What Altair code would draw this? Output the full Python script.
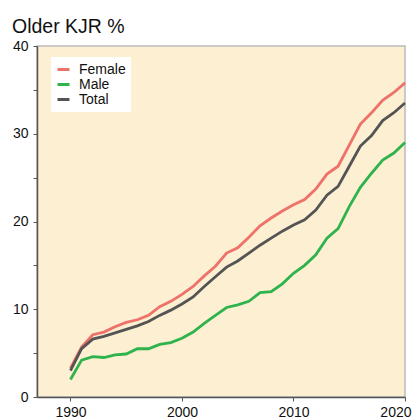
import altair as alt
import pandas as pd

years = list(range(1990, 2021))
female = [3.3, 5.7, 7.1, 7.4, 8.0, 8.5, 8.8, 9.3, 10.3, 10.9, 11.7, 12.6, 13.8, 14.9, 16.4, 17.0,
          18.2, 19.5, 20.4, 21.2, 21.9, 22.5, 23.7, 25.4, 26.3, 28.7, 31.1, 32.4, 33.8, 34.7, 35.8]
male = [2.0, 4.2, 4.6, 4.5, 4.8, 4.9, 5.5, 5.5, 6.0, 6.2, 6.7, 7.4, 8.4, 9.3, 10.2, 10.5,
        10.9, 11.9, 12.0, 12.9, 14.1, 15.0, 16.2, 18.1, 19.2, 21.7, 23.9, 25.5, 27.0, 27.8, 29.0]
total = [3.0, 5.5, 6.6, 6.9, 7.3, 7.7, 8.1, 8.6, 9.3, 9.9, 10.6, 11.4, 12.6, 13.7, 14.8, 15.5,
         16.4, 17.3, 18.1, 18.9, 19.6, 20.2, 21.3, 23.0, 24.0, 26.3, 28.6, 29.8, 31.5, 32.4, 33.5]
series = ["Female", "Male", "Total"]
colors = ["#EE716A", "#2FB34C", "#545454"]
x_ticks = [1990, 2000, 2010, 2020]
y_ticks = [0, 5, 10, 15, 20, 25, 30, 35, 40]

rows = []
for name, vals in zip(series, [female, male, total]):
    for yr, v in zip(years, vals):
        rows.append({"year": yr, "value": v, "series": name})
df = pd.DataFrame(rows)

font = "Liberation Sans"

chart = alt.Chart(df).mark_line(strokeWidth=2.8).encode(
    x=alt.X("year:Q", scale=alt.Scale(domain=[1987, 2020], nice=False),
            axis=alt.Axis(values=x_ticks, format="d", title=None, grid=False,
                          domainColor="#555555", domainWidth=1.5, tickColor="#555555",
                          tickSize=4, labelFontSize=14, labelColor="#111111",
                          labelFont=font, labelPadding=4,
                          labelAlign={"condition": {"test": "datum.value == 2020", "value": "right"},
                                      "value": "center"},
                          labelOffset={"condition": {"test": "datum.value == 2020", "value": 6},
                                       "value": 0})),
    y=alt.Y("value:Q", scale=alt.Scale(domain=[0, 40], nice=False),
            axis=alt.Axis(values=y_ticks, labelExpr="datum.value % 10 == 0 ? datum.label : ''",
                          title=None, grid=False, domainColor="#555555", domainWidth=1.5,
                          tickColor="#555555", tickSize=4, labelFontSize=14,
                          labelColor="#111111", labelFont=font, labelPadding=5)),
    color=alt.Color("series:N", scale=alt.Scale(domain=series, range=colors),
                    legend=alt.Legend(title=None, orient="none", legendX=14, legendY=11,
                                      fillColor="white", padding=5, symbolType="stroke",
                                      symbolStrokeWidth=3, symbolSize=144,
                                      labelFontSize=14, labelFont=font, labelColor="#111111",
                                      rowPadding=0, labelOffset=8)),
).properties(
    width=368, height=351,
    title=alt.TitleParams("Older KJR %", anchor="start", frame="group", fontSize=19.5,
                          font=font, fontWeight="normal", color="#111111", dx=-25, offset=2),
    autosize=alt.AutoSizeParams(type="none"),
    padding={"left": 29, "top": 38, "right": 7, "bottom": 22},
).configure_view(
    fill="#FDEFD2", stroke="#BBBBBB", strokeWidth=1.5
)

chart.save("out.html", embed_options={"renderer": "svg", "actions": False})
